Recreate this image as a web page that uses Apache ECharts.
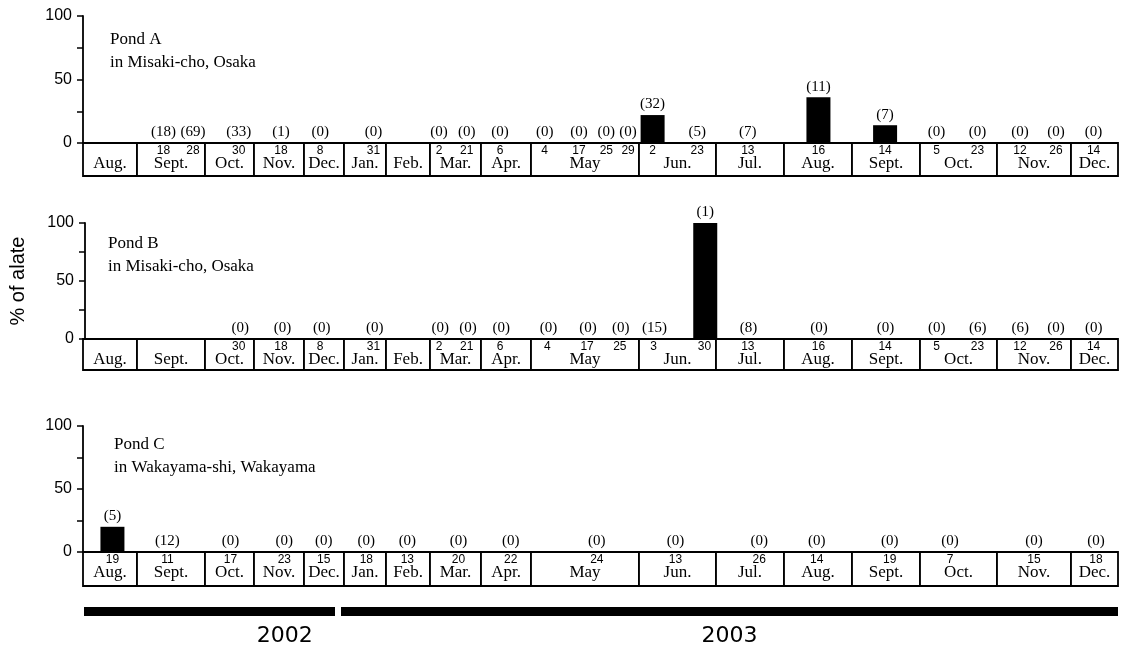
<!DOCTYPE html>
<html><head><meta charset="utf-8">
<script src="https://cdn.jsdelivr.net/npm/echarts@6/dist/echarts.min.js"></script>
<style>html,body{margin:0;padding:0;background:#fff}#c{width:1123px;height:646px}</style>
</head><body><div id="c"></div>
<script>
// ================= DATA =================
const monthNames = ['Aug.','Sept.','Oct.','Nov.','Dec.','Jan.','Feb.','Mar.','Apr.','May','Jun.','Jul.','Aug.','Sept.','Oct.','Nov.','Dec.'];
const monthDays  = [31,30,31,30,31,31,28,31,30,31,30,31,31,30,31,30,31];
const years      = ['2002','2003'];
const yearFirstMonth = [0,5];
const yearLastMonth  = [4,16];
const yTickLabels = [0,50,100];

const pondNames  = ['Pond A','Pond B','Pond C'];
const pondPlaces = ['in Misaki-cho, Osaka','in Misaki-cho, Osaka','in Wakayama-shi, Wakayama'];
const yAxisTitle = '% of alate';

// Pond A samples: month index, day of month, % alate, number of individuals
const pondAMonth = [1,1,2,3,4,5,7,7,8,9,9,9,9,10,10,11,12,13,14,14,15,15,16];
const pondADay   = [18,28,30,18,8,31,2,21,6,4,17,25,29,2,23,13,16,14,5,23,12,26,14];
const pondAPct   = [0,0,0,0,0,0,0,0,0,0,0,0,0,22,0,0,36,14,0,0,0,0,0];
const pondAN     = [18,69,33,1,0,0,0,0,0,0,0,0,0,32,5,7,11,7,0,0,0,0,0];

// Pond B samples
const pondBMonth = [2,3,4,5,7,7,8,9,9,9,10,10,11,12,13,14,14,15,15,16];
const pondBDay   = [30,18,8,31,2,21,6,4,17,25,3,30,13,16,14,5,23,12,26,14];
const pondBPct   = [0,0,0,0,0,0,0,0,0,0,0,100,0,0,0,0,0,0,0,0];
const pondBN     = [0,0,0,0,0,0,0,0,0,0,15,1,8,0,0,0,6,6,0,0];

// Pond C samples
const pondCMonth = [0,1,2,3,4,5,6,7,8,9,10,11,12,13,14,15,16];
const pondCDay   = [19,11,17,23,15,18,13,20,22,24,13,26,14,19,7,15,18];
const pondCPct   = [20,0,0,0,0,0,0,0,0,0,0,0,0,0,0,0,0];
const pondCN     = [5,12,0,0,0,0,0,0,0,0,0,0,0,0,0,0,0];

// ================= LAYOUT (not data) =================
const MONTH_BOX_W = [54,68,49,50,40,42,44,51,50,108,77,68,68,68,77,74,47];
const monthStart = [];
let acc = 0;
MONTH_BOX_W.forEach(w => { monthStart.push(acc); acc += w; });
const X_TOTAL = acc;
const GRID_LEFT = 83;
const panels = [
  {top:16,  h:127, strip:33, titleTop:28},
  {top:223, h:116, strip:31, titleTop:232},
  {top:426, h:126, strip:34, titleTop:433}
];
const titleLeft = [110,108,114];

// map a sample date to the axis unit within its month box
function samplesOf(months, days, pct, ns) {
  const out = [];
  months.forEach((m, i) => {
    const same = months.map((mm, k) => mm === m ? k : -1).filter(k => k >= 0);
    const j = same.indexOf(i), k = same.length;
    const frac = 0.6 * (j + 0.5) / k + 0.4 * days[i] / monthDays[m];
    out.push({x: monthStart[m] + MONTH_BOX_W[m] * frac, day: days[i], pct: pct[i], n: ns[i]});
  });
  return out;
}
const ponds = [
  samplesOf(pondAMonth, pondADay, pondAPct, pondAN),
  samplesOf(pondBMonth, pondBDay, pondBPct, pondBN),
  samplesOf(pondCMonth, pondCDay, pondCPct, pondCN)
];

const SERIF = '"Liberation Serif", "Times New Roman", serif';
const SANS = '"Liberation Sans", Arial, sans-serif';

const grid = [], xAxis = [], yAxis = [], series = [], title = [];
panels.forEach((p, i) => {
  grid.push({left: GRID_LEFT, width: X_TOTAL, top: p.top, height: p.h});
  grid.push({left: GRID_LEFT, width: X_TOTAL, top: p.top + p.h, height: p.strip});
  const gb = i * 2, gs = i * 2 + 1;
  xAxis.push({gridIndex: gb, type: 'value', min: 0, max: X_TOTAL, show: false});
  xAxis.push({gridIndex: gs, type: 'value', min: 0, max: X_TOTAL, show: false});
  yAxis.push({
    gridIndex: gb, type: 'value', min: 0, max: 100, interval: 25,
    axisLine: {show: true, lineStyle: {color: '#000', width: 1.8}},
    axisTick: {show: true, length: 6, lineStyle: {color: '#000', width: 1.5}},
    axisLabel: {formatter: v => yTickLabels.includes(v) ? String(v) : '', color: '#000', fontSize: 16, fontFamily: SANS, margin: 11},
    splitLine: {show: false},
    name: i === 1 ? yAxisTitle : '',
    nameLocation: 'middle', nameRotate: 90, nameGap: 57,
    nameTextStyle: {fontSize: 20, fontFamily: SANS, color: '#000'}
  });
  yAxis.push({gridIndex: gs, type: 'value', min: 0, max: 1, show: false});

  title.push({
    text: pondNames[i] + '\n' + pondPlaces[i], left: titleLeft[i], top: p.titleTop, padding: 0,
    textStyle: {fontFamily: SERIF, fontSize: 17, fontWeight: 'normal', lineHeight: 23, color: '#000'}
  });

  // month boxes
  series.push({
    type: 'custom', xAxisIndex: gs, yAxisIndex: gs, silent: true,
    data: monthNames.map((nm, m) => [monthStart[m], monthStart[m] + MONTH_BOX_W[m], m]),
    renderItem: (params, api) => {
      const a = api.coord([api.value(0), 1]);
      const b = api.coord([api.value(1), 0]);
      const m = api.value(2);
      return {type: 'group', children: [
        {type: 'rect', shape: {x: a[0], y: a[1], width: b[0] - a[0], height: b[1] - a[1]},
          style: {fill: '#fff', stroke: '#000', lineWidth: 1.8}},
        {type: 'text', style: {text: monthNames[m], x: (a[0] + b[0]) / 2, y: a[1] + 21, align: 'center', verticalAlign: 'middle',
          font: '17px ' + SERIF, fill: '#000'}}
      ]};
    }
  });
  // day-of-month labels
  series.push({
    type: 'custom', xAxisIndex: gs, yAxisIndex: gs, silent: true, z: 5,
    data: ponds[i].map(s => [s.x, s.day]),
    renderItem: (params, api) => {
      const a = api.coord([api.value(0), 1]);
      return {type: 'text', style: {text: String(api.value(1)), x: a[0], y: a[1] + 8, align: 'center', verticalAlign: 'middle',
        font: '12px ' + SANS, fill: '#000'}};
    }
  });
  // bars
  series.push({
    type: 'bar', xAxisIndex: gb, yAxisIndex: gb, barWidth: 24, z: 3,
    itemStyle: {color: '#000'},
    data: ponds[i].map(s => [s.x, s.pct, s.n]),
    label: {show: true, position: 'top', distance: 3, formatter: pr => '(' + pr.value[2] + ')',
      fontFamily: SERIF, fontSize: 15, color: '#000'}
  });
});

// year bars
grid.push({left: GRID_LEFT, width: X_TOTAL, top: 600, height: 40});
const gy = grid.length - 1;
xAxis.push({gridIndex: gy, type: 'value', min: 0, max: X_TOTAL, show: false});
yAxis.push({gridIndex: gy, type: 'value', min: 0, max: 1, show: false});
const yearLabelFrac = [0.8, 0.5];
series.push({
  type: 'custom', xAxisIndex: gy, yAxisIndex: gy, silent: true,
  data: years.map((y, i) => [monthStart[yearFirstMonth[i]], monthStart[yearLastMonth[i]] + MONTH_BOX_W[yearLastMonth[i]], i]),
  renderItem: (params, api) => {
    const i = api.value(2);
    const a = api.coord([api.value(0), 1]);
    const b = api.coord([api.value(1), 0]);
    const x0 = a[0] + (i === 0 ? 1 : -3);
    const x1 = b[0] - (i === 0 ? 9 : 0);
    return {type: 'group', children: [
      {type: 'rect', shape: {x: x0, y: a[1] + 7, width: x1 - x0, height: 9}, style: {fill: '#000'}},
      {type: 'text', style: {text: years[i], x: x0 + (x1 - x0) * yearLabelFrac[i], y: a[1] + 36, align: 'center', verticalAlign: 'middle',
        font: '22px "DejaVu Sans", sans-serif', fill: '#000'}}
    ]};
  }
});

const chart = echarts.init(document.getElementById('c'), null, {renderer: 'canvas'});
chart.setOption({animation: false, backgroundColor: '#fff', title, grid, xAxis, yAxis, series});
</script></body></html>
